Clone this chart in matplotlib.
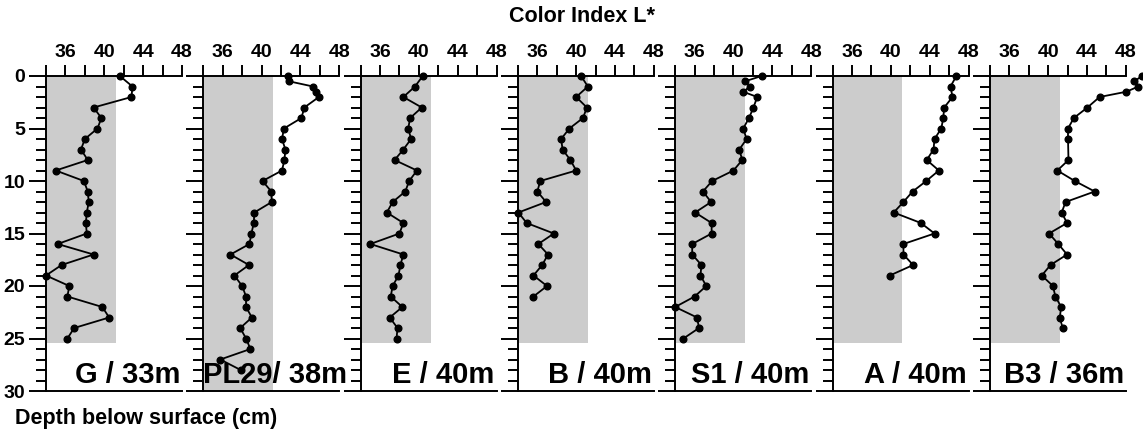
import matplotlib
matplotlib.use("Agg")
import matplotlib.pyplot as plt
from matplotlib.patches import Rectangle
from matplotlib.ticker import MultipleLocator

plt.rcParams['font.family'] = ['Liberation Sans', 'DejaVu Sans']
plt.rcParams['font.weight'] = 'bold'

# ---------------- data ----------------
site_labels = ["G / 33m", "PL29/ 38m", "E / 40m", "B / 40m", "S1 / 40m", "A / 40m", "B3 / 36m"]

g_depth = list(range(0, 26))
g_L = [41.6, 42.9, 42.8, 38.9, 39.7, 39.3, 38.0, 37.6, 38.3, 35.0, 37.9, 38.3, 38.4,
       38.2, 38.1, 38.2, 35.2, 38.9, 35.6, 34.0, 36.4, 36.2, 39.8, 40.5, 36.9, 36.2]

pl29_depth = [0, 0.5, 1, 1.5, 2] + list(range(3, 29))
pl29_L = [42.75, 42.8, 45.3, 45.6, 45.9, 44.4, 44.1, 42.3, 42.1, 42.45, 42.35, 42.1, 40.1,
          41.0, 41.05, 39.25, 39.2, 38.95, 38.75, 36.8, 38.7, 37.2, 38.0, 38.4, 38.4, 39.0,
          37.8, 38.4, 38.85, 35.75, 37.85]

e_depth = list(range(0, 26))
e_L = [40.4, 39.6, 38.4, 40.3, 39.1, 38.9, 39.2, 38.4, 37.5, 39.8, 39.0, 38.6, 37.3,
       36.7, 38.4, 38.0, 35.0, 38.4, 38.1, 37.9, 37.3, 37.1, 38.3, 37.0, 37.8, 37.7]

b_depth = list(range(0, 22))
b_L = [40.5, 41.2, 40.0, 41.1, 40.7, 39.3, 38.45, 38.6, 39.4, 40.0, 36.3, 36.0, 36.9,
       34.05, 34.9, 37.7, 36.1, 37.1, 36.5, 35.6, 37.0, 35.6]

s1_depth = [0, 0.5, 1, 1.5, 2] + list(range(3, 26))
s1_L = [42.9, 41.2, 41.7, 41.0, 42.45, 42.05, 41.6, 41.0, 41.35, 40.6, 40.9, 40.0, 37.8,
        36.85, 37.7, 36.05, 37.75, 37.75, 35.75, 35.75, 36.7, 36.6, 37.2, 36.0, 34.0,
        36.25, 36.45, 34.85]

a_depth = list(range(0, 20))
a_L = [46.75, 46.15, 46.35, 45.5, 45.4, 45.2, 44.5, 44.4, 43.7, 44.95, 43.65, 42.25,
       41.3, 40.3, 43.1, 44.5, 41.3, 41.3, 42.3, 39.9]

b3_depth = [0, 0.5, 1, 1.5, 2, 3, 4, 5, 6] + list(range(8, 25))
b3_L = [49.7, 48.85, 49.3, 48.05, 45.3, 44.05, 42.65, 42.05, 42.05, 42.1, 40.95, 42.75,
        44.8, 41.8, 41.4, 41.95, 40.1, 41.05, 41.95, 40.25, 39.35, 40.5, 40.75, 41.35,
        41.2, 41.5]

depths = [g_depth, pl29_depth, e_depth, b_depth, s1_depth, a_depth, b3_depth]
values = [g_L, pl29_L, e_L, b_L, s1_L, a_L, b3_L]

# shaded reference band (L* 34 - 41.2), depth extent per core
shade_L = 41.2
shade_depth = [25.4, 30, 25.4, 25.4, 25.4, 25.4, 25.4]

x_ticklabels = [36, 40, 44, 48]

# ---------------- figure ----------------
W, H = 1143, 430
fig = plt.figure(figsize=(W / 100, H / 100), dpi=100)

left0, step, width = 46, 157.3, 136
top, bottom = 76, 391

label_x = [0.985, 1.06, 0.985, 0.985, 0.985, 0.985, 0.985]

for i in range(7):
    l = left0 + i * step
    ax = fig.add_axes([l / W, 1 - bottom / H, width / W, (bottom - top) / H])
    ax.set_xlim(34, 48)
    ax.set_ylim(30, 0)
    ax.add_patch(Rectangle((34, 0), shade_L - 34, shade_depth[i],
                           facecolor='#cccccc', edgecolor='none', zorder=0))
    ax.plot(values[i], depths[i], color='black', lw=1.3, marker='o', ms=4.8,
            clip_on=False, zorder=3)

    ax.xaxis.tick_top()
    ticks = list(range(34, 49, 2))
    ax.set_xticks(ticks)
    ax.set_xticklabels([str(v) if v in x_ticklabels else '' for v in ticks])
    ax.tick_params(axis='x', direction='out', length=8, width=1.4, pad=3,
                   labelsize=14, top=True, bottom=False)
    ax.yaxis.set_major_locator(MultipleLocator(5))
    ax.yaxis.set_minor_locator(MultipleLocator(1))
    ax.tick_params(axis='y', which='major', direction='out', length=12, width=1.4,
                   pad=3, labelsize=14)
    ax.tick_params(axis='y', which='minor', direction='out', length=7, width=1.4)
    if i > 0:
        ax.tick_params(axis='y', labelleft=False)
    for s in ['top', 'left', 'bottom']:
        ax.spines[s].set_linewidth(1.4)
    ax.spines['right'].set_visible(False)
    for lab in ax.get_xticklabels() + ax.get_yticklabels():
        lab.set_fontweight('bold')
    ax.text(label_x[i], 0.005, site_labels[i], transform=ax.transAxes,
            ha='right', va='bottom', fontsize=21, fontweight='bold', zorder=5)

fig.text(582 / W, 1 - 22 / H, "Color Index L*", ha='center', va='baseline',
         fontsize=15.5, fontweight='bold')
fig.text(15 / W, 1 - 424 / H, "Depth below surface (cm)", ha='left', va='baseline',
         fontsize=15.5, fontweight='bold')

fig.savefig('out.png', dpi=100)
